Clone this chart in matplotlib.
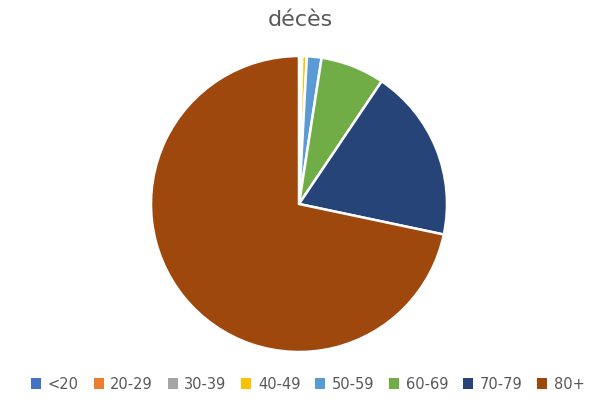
import matplotlib
matplotlib.use("Agg")
import matplotlib.pyplot as plt
from matplotlib.patches import Patch

labels = ["<20", "20-29", "30-39", "40-49", "50-59", "60-69", "70-79", "80+"]
values = [0.05, 0.1, 0.2, 0.5, 1.6, 7.0, 18.9, 71.8]
colors = ["#4472C4", "#ED7D31", "#A5A5A5", "#FFC000",
          "#5B9BD5", "#70AD47", "#264478", "#9E480E"]

fig = plt.figure(figsize=(6, 4.15), dpi=100)
cx, cy, r = 299, 204, 148
ax = fig.add_axes([(cx - r) / 600, (415 - cy - r) / 415, 2 * r / 600, 2 * r / 415])
ax.pie(values, colors=colors, startangle=90, counterclock=False, radius=1,
       wedgeprops=dict(edgecolor="white", linewidth=1.8))
ax.set_xlim(-1.0, 1.0)
ax.set_ylim(-1.0, 1.0)
ax.set_aspect("equal")
ax.axis("off")

fig.text(0.5, 1 - 20 / 415, "décès", ha="center", va="center",
         fontsize=16, color="#595959")

handles = [Patch(facecolor=c, edgecolor="none") for c in colors]
fig.legend(handles, labels, loc="center", bbox_to_anchor=(0.513, 1 - 384 / 415),
           ncol=8, frameon=False, fontsize=10.5, labelcolor="#595959",
           handlelength=0.7, handleheight=0.7, handletextpad=0.45,
           columnspacing=1.0)

fig.savefig("out.png", dpi=100)
